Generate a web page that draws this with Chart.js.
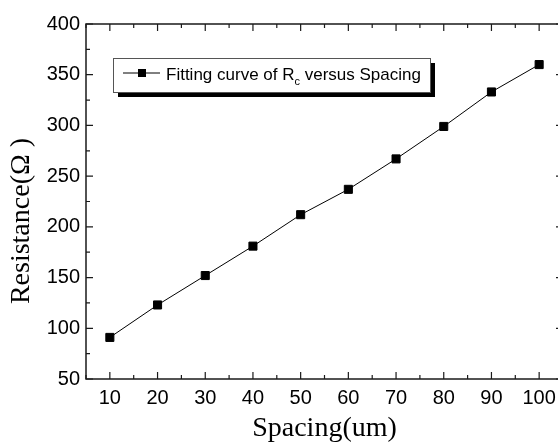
<!DOCTYPE html>
<html>
<head>
<meta charset="utf-8">
<script src="https://cdn.jsdelivr.net/npm/chart.js@4.4.1/dist/chart.umd.min.js"></script>
<style>
  html, body { margin: 0; padding: 0; background: #fff; overflow: hidden; }
  #wrap { width: 558px; height: 445px; overflow: hidden; }
</style>
</head>
<body>
<!-- canvas is a bit wider than the window: the right spine of the original is cropped off -->
<div id="wrap"><canvas id="rcChart" width="570" height="445"></canvas></div>
<script>
// spacing (um) vs resistance (ohm)
const spacing = [10, 20, 30, 40, 50, 60, 70, 80, 90, 100];
const resistance = [91, 123, 152, 181, 212, 237, 267, 299, 333, 360];
const xTicks = [10, 20, 30, 40, 50, 60, 70, 80, 90, 100];
const yTicks = [50, 100, 150, 200, 250, 300, 350, 400];
const legendLabel = ['Fitting curve of R', 'c', ' versus Spacing'];

const AXIS = '#1a1a1a';

// frame, inward ticks, custom legend and y title
const framePlugin = {
  id: 'frame',
  afterDraw(chart) {
    const { ctx, chartArea: a, scales: { x, y } } = chart;
    ctx.save();
    ctx.strokeStyle = AXIS;
    ctx.lineWidth = 1.5;
    ctx.strokeRect(a.left, a.top, a.right - a.left, a.bottom - a.top);

    ctx.lineWidth = 1.2;
    ctx.beginPath();
    for (let v = 5; v <= x.max; v += 5) {
      const px = x.getPixelForValue(v);
      const len = v % 10 === 0 ? 7 : 4;
      ctx.moveTo(px, a.bottom); ctx.lineTo(px, a.bottom - len);
      ctx.moveTo(px, a.top); ctx.lineTo(px, a.top + len);
    }
    for (let v = 50; v <= 400; v += 25) {
      const py = y.getPixelForValue(v);
      const len = v % 50 === 0 ? 7 : 4;
      ctx.moveTo(a.left, py); ctx.lineTo(a.left + len, py);
      ctx.moveTo(a.right, py); ctx.lineTo(a.right - len, py);
    }
    ctx.stroke();

    // legend box with drop shadow
    const bx = 113, by = 58, bw = 317, bh = 34;
    ctx.fillStyle = '#000';
    ctx.fillRect(bx + 5, by + 5, bw, bh);
    ctx.fillStyle = '#fff';
    ctx.fillRect(bx, by, bw, bh);
    ctx.strokeStyle = '#555';
    ctx.lineWidth = 1;
    ctx.strokeRect(bx + 0.5, by + 0.5, bw, bh);

    const ly = 73;
    ctx.strokeStyle = '#000';
    ctx.beginPath();
    ctx.moveTo(123, ly); ctx.lineTo(160, ly);
    ctx.stroke();
    ctx.fillStyle = '#000';
    ctx.fillRect(138, ly - 4, 8, 8);

    ctx.textBaseline = 'alphabetic';
    ctx.font = '17px "Liberation Sans", Arial, sans-serif';
    let tx = 166;
    ctx.fillText(legendLabel[0], tx, 80);
    tx += ctx.measureText(legendLabel[0]).width;
    ctx.font = '11px "Liberation Sans", Arial, sans-serif';
    ctx.fillText(legendLabel[1], tx, 85);
    tx += ctx.measureText(legendLabel[1]).width;
    ctx.font = '17px "Liberation Sans", Arial, sans-serif';
    ctx.fillText(legendLabel[2], tx, 80);

    // y axis title
    ctx.translate(22, 221);
    ctx.rotate(-Math.PI / 2);
    ctx.font = '28px "Liberation Serif", "Times New Roman", serif';
    ctx.textAlign = 'center';
    ctx.textBaseline = 'middle';
    ctx.fillText('Resistance(\u03A9 )', 0, 0);
    ctx.restore();
  }
};

new Chart(document.getElementById('rcChart'), {
  type: 'line',
  data: {
    datasets: [{
      label: 'Fitting curve of Rc versus Spacing',
      data: spacing.map((s, i) => ({ x: s, y: resistance[i] })),
      borderColor: '#000',
      borderWidth: 1,
      backgroundColor: '#000',
      pointStyle: 'rect',
      pointRadius: 5.7,
      pointHoverRadius: 5.7,
      tension: 0
    }]
  },
  options: {
    responsive: false,
    animation: false,
    layout: { padding: { top: 24, right: 7, left: 0, bottom: 0 } },
    plugins: { legend: { display: false }, tooltip: { enabled: false } },
    scales: {
      x: {
        type: 'linear',
        min: 5,
        max: 105,
        afterBuildTicks: s => { s.ticks = xTicks.map(v => ({ value: v })); },
        afterFit: s => { s.height = 66; },
        grid: { display: false, drawTicks: false },
        border: { display: false },
        ticks: { color: '#000', padding: 7, font: { family: '"Liberation Sans", Arial, sans-serif', size: 20 } },
        title: {
          display: true,
          text: 'Spacing(um)',
          color: '#000',
          padding: { top: 0, bottom: 0 },
          align: 'center',
          font: { family: '"Liberation Serif", "Times New Roman", serif', size: 28 }
        }
      },
      y: {
        type: 'linear',
        min: 50,
        max: 400,
        afterBuildTicks: s => { s.ticks = yTicks.map(v => ({ value: v })); },
        afterFit: s => { s.width = 86; },
        grid: { display: false, drawTicks: false },
        border: { display: false },
        ticks: { color: '#000', padding: 6, font: { family: '"Liberation Sans", Arial, sans-serif', size: 20 } }
      }
    }
  },
  plugins: [framePlugin]
});
</script>
</body>
</html>
